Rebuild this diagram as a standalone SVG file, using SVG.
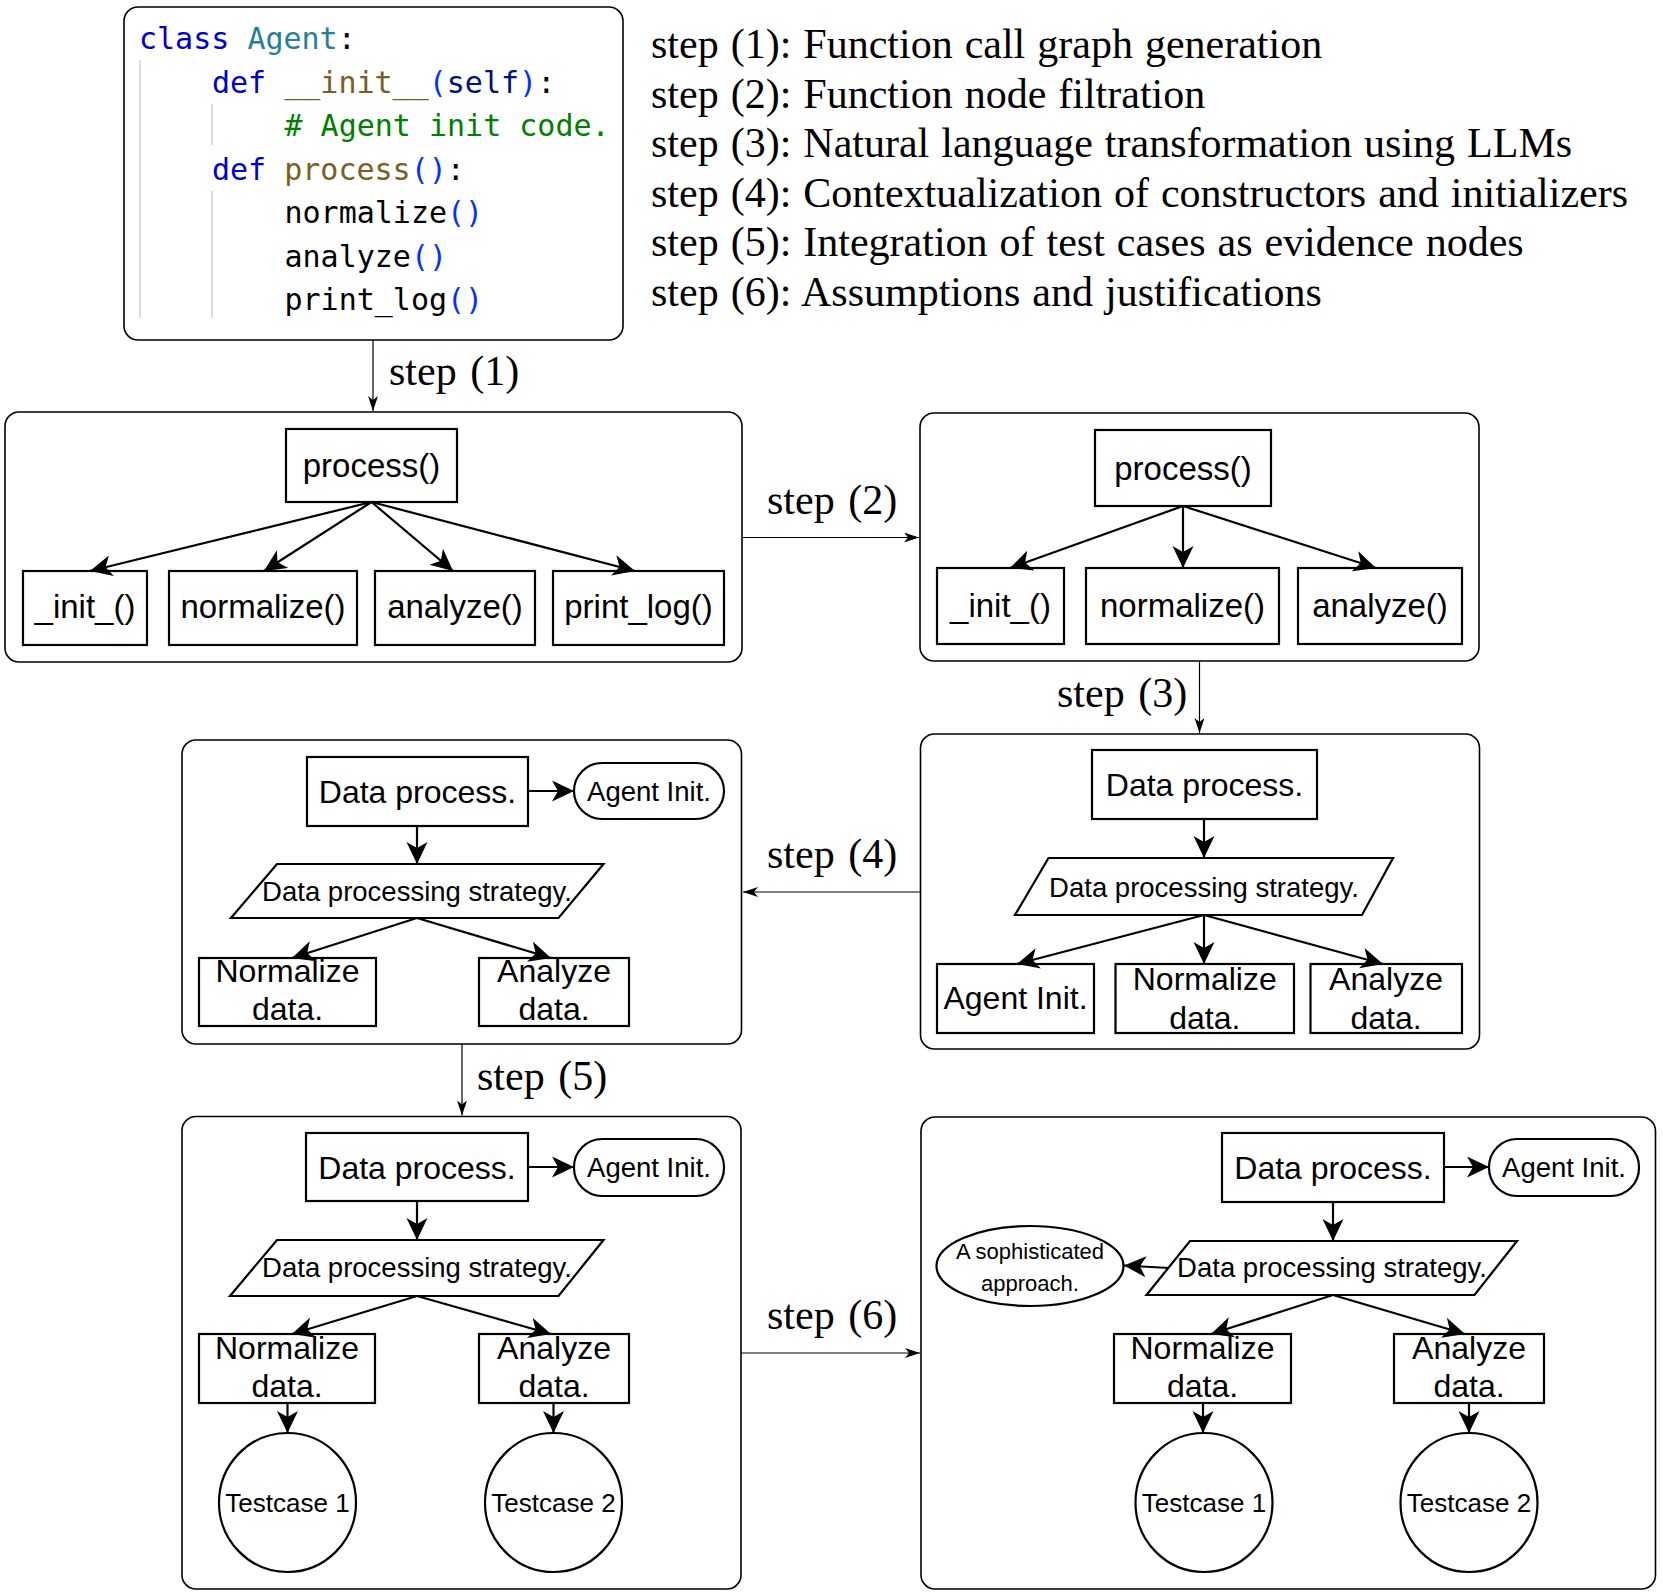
<svg xmlns="http://www.w3.org/2000/svg" width="1663" height="1595" viewBox="0 0 1663 1595">
<defs>
<style>
.panel{fill:#fff;stroke:#000;stroke-width:1.6}
.box{fill:#fff;stroke:#000;stroke-width:2.2}
.edge{fill:none;stroke:#000;stroke-width:2.2}
.thin{fill:none;stroke:#000;stroke-width:1.2}
.guide{stroke:#d0d0d0;stroke-width:1.5}
.code{font-family:"DejaVu Sans Mono","Liberation Mono",monospace;font-size:30px;fill:#000}
.serif{font-family:"Liberation Serif","Times New Roman",serif;font-size:42px;fill:#000}
.s33{font-family:"Liberation Sans",Arial,sans-serif;font-size:33px;fill:#000;text-anchor:middle}
.s32{font-family:"Liberation Sans",Arial,sans-serif;font-size:32px;fill:#000;text-anchor:middle}
.s27{font-family:"Liberation Sans",Arial,sans-serif;font-size:27.5px;fill:#000;text-anchor:middle}
.s26{font-family:"Liberation Sans",Arial,sans-serif;font-size:26px;fill:#000;text-anchor:middle}
.s22{font-family:"Liberation Sans",Arial,sans-serif;font-size:22px;fill:#000;text-anchor:middle}
.kw{fill:#0000cc}.cls{fill:#267f99}.fn{fill:#795e26}.par{fill:#0431fa}.slf{fill:#001080}.cm{fill:#008000}
</style>
<marker id="ah" markerUnits="userSpaceOnUse" markerWidth="24" markerHeight="22" refX="22" refY="10.5" orient="auto"><path d="M0,0 L22,10.5 L0,21 L6,10.5 Z" fill="#000"/></marker>
<marker id="ahs" markerUnits="userSpaceOnUse" markerWidth="16" markerHeight="12" refX="15" refY="5" orient="auto"><path d="M0,0 L15,5 L0,10 L4,5 Z" fill="#000"/></marker>
</defs>
<rect width="1663" height="1595" fill="#fff"/>

<g id="code">
<rect class="panel" x="124" y="7" width="499" height="333" rx="14"/>
<line class="guide" x1="140" y1="60" x2="140" y2="318"/>
<line class="guide" x1="212" y1="104" x2="212" y2="145"/>
<line class="guide" x1="212" y1="191" x2="212" y2="318"/>
<text class="code" x="139" y="49"><tspan class="kw">class</tspan> <tspan class="cls">Agent</tspan>:</text>
<text class="code" x="212" y="92.5"><tspan class="kw">def</tspan> <tspan class="fn">__init__</tspan><tspan class="par">(</tspan><tspan class="slf">self</tspan><tspan class="par">)</tspan>:</text>
<text class="code" x="284.5" y="136"><tspan class="cm"># Agent init code.</tspan></text>
<text class="code" x="212" y="179.5"><tspan class="kw">def</tspan> <tspan class="fn">process</tspan><tspan class="par">()</tspan>:</text>
<text class="code" x="284.5" y="223">normalize<tspan class="par">()</tspan></text>
<text class="code" x="284.5" y="266.5">analyze<tspan class="par">()</tspan></text>
<text class="code" x="284.5" y="310">print_log<tspan class="par">()</tspan></text>
</g>

<g id="legend">
<text class="serif" x="651" y="58" word-spacing="1.5">step (1): Function call graph generation</text>
<text class="serif" x="651" y="107.5" word-spacing="1.5">step (2): Function node filtration</text>
<text class="serif" x="651" y="157" word-spacing="1.5">step (3): Natural language transformation using LLMs</text>
<text class="serif" x="651" y="206.5" word-spacing="1.5">step (4): Contextualization of constructors and initializers</text>
<text class="serif" x="651" y="256" word-spacing="1.5">step (5): Integration of test cases as evidence nodes</text>
<text class="serif" x="651" y="305.5" word-spacing="1.5">step (6): Assumptions and justifications</text>
</g>

<g id="panelA">
<rect class="panel" x="5" y="412" width="737" height="250" rx="14"/>
<rect class="box" x="286" y="429" width="171" height="73"/>
<text class="s33" x="371.5" y="477">process()</text>
<rect class="box" x="23" y="571" width="124" height="74"/>
<text class="s33" x="85" y="618">_init_()</text>
<rect class="box" x="169" y="571" width="188" height="74"/>
<text class="s33" x="263" y="618">normalize()</text>
<rect class="box" x="375" y="571" width="160" height="74"/>
<text class="s33" x="455" y="618">analyze()</text>
<rect class="box" x="553" y="571" width="171" height="74"/>
<text class="s33" x="638.5" y="618">print_log()</text>
</g>

<g id="panelB">
<rect class="panel" x="920" y="413" width="559" height="248" rx="14"/>
<rect class="box" x="1095" y="430" width="176" height="76"/>
<text class="s33" x="1183" y="480">process()</text>
<rect class="box" x="937" y="568" width="127" height="76"/>
<text class="s33" x="1000.5" y="617">_init_()</text>
<rect class="box" x="1086" y="568" width="193" height="76"/>
<text class="s33" x="1182.5" y="617">normalize()</text>
<rect class="box" x="1298" y="568" width="164" height="76"/>
<text class="s33" x="1380" y="617">analyze()</text>
</g>

<g id="panelC">
<rect class="panel" x="920.5" y="734" width="559" height="315" rx="14"/>
<rect class="box" x="1092" y="750" width="225" height="69"/>
<text class="s32" x="1204.5" y="796">Data process.</text>
<polygon class="box" points="1048.5,858 1393,858 1362,915 1015,915"/>
<text class="s27" x="1204" y="896.5">Data processing strategy.</text>
<rect class="box" x="937" y="964" width="157" height="69"/>
<text class="s32" x="1015.5" y="1009">Agent Init.</text>
<rect class="box" x="1115.5" y="964" width="178.5" height="69"/>
<text class="s32" x="1204.75" y="990">Normalize</text>
<text class="s32" x="1204.75" y="1029">data.</text>
<rect class="box" x="1310.5" y="964" width="151.5" height="69"/>
<text class="s32" x="1386" y="990">Analyze</text>
<text class="s32" x="1386" y="1029">data.</text>
</g>

<g id="panelD">
<rect class="panel" x="182" y="740" width="559.5" height="304" rx="14"/>
<rect class="box" x="307" y="757" width="221" height="69"/>
<text class="s32" x="417.5" y="802.5">Data process.</text>
<rect class="box" x="574" y="763" width="150" height="56" rx="28"/>
<text class="s27" x="649" y="800.5">Agent Init.</text>
<polygon class="box" points="277,864 603.5,864 558.5,918 231,918"/>
<text class="s27" x="417" y="900.5">Data processing strategy.</text>
<rect class="box" x="199" y="958" width="177" height="68"/>
<text class="s32" x="287.5" y="982">Normalize</text>
<text class="s32" x="287.5" y="1020">data.</text>
<rect class="box" x="479" y="958" width="150" height="68"/>
<text class="s32" x="554" y="982">Analyze</text>
<text class="s32" x="554" y="1020">data.</text>
</g>

<g id="panelE">
<rect class="panel" x="182" y="1116.5" width="559" height="472.5" rx="14"/>
<rect class="box" x="306" y="1133" width="222" height="68"/>
<text class="s32" x="417" y="1178.5">Data process.</text>
<rect class="box" x="574" y="1139" width="150" height="57" rx="28"/>
<text class="s27" x="649" y="1177">Agent Init.</text>
<polygon class="box" points="277,1240 603.5,1240 558.5,1296 230,1296"/>
<text class="s27" x="417" y="1277">Data processing strategy.</text>
<rect class="box" x="199" y="1334" width="176" height="69"/>
<text class="s32" x="287" y="1359">Normalize</text>
<text class="s32" x="287" y="1397">data.</text>
<rect class="box" x="479" y="1334" width="150" height="69"/>
<text class="s32" x="554" y="1359">Analyze</text>
<text class="s32" x="554" y="1397">data.</text>
<ellipse class="box" cx="287.5" cy="1502.5" rx="68.5" ry="69.5"/>
<text class="s26" x="287.5" y="1512">Testcase 1</text>
<ellipse class="box" cx="553.5" cy="1502.5" rx="68.5" ry="69.5"/>
<text class="s26" x="553.5" y="1512">Testcase 2</text>
</g>

<g id="panelF">
<rect class="panel" x="921" y="1117" width="734.5" height="472" rx="14"/>
<rect class="box" x="1222" y="1133" width="222" height="69"/>
<text class="s32" x="1333" y="1179">Data process.</text>
<rect class="box" x="1489" y="1139" width="150" height="57" rx="28"/>
<text class="s27" x="1564" y="1177">Agent Init.</text>
<polygon class="box" points="1190,1241 1517,1241 1474.5,1295 1146.5,1295"/>
<text class="s27" x="1332" y="1277">Data processing strategy.</text>
<ellipse class="box" cx="1030" cy="1266" rx="93.5" ry="40"/>
<text class="s22" x="1030" y="1259">A sophisticated</text>
<text class="s22" x="1030" y="1291">approach.</text>
<rect class="box" x="1114" y="1334" width="177" height="69"/>
<text class="s32" x="1202.5" y="1359">Normalize</text>
<text class="s32" x="1202.5" y="1397">data.</text>
<rect class="box" x="1394" y="1334" width="150" height="69"/>
<text class="s32" x="1469" y="1359">Analyze</text>
<text class="s32" x="1469" y="1397">data.</text>
<ellipse class="box" cx="1204" cy="1502.5" rx="68.5" ry="69.5"/>
<text class="s26" x="1204" y="1512">Testcase 1</text>
<ellipse class="box" cx="1469" cy="1502.5" rx="68.5" ry="69.5"/>
<text class="s26" x="1469" y="1512">Testcase 2</text>
</g>

<g id="connectors">
<line class="thin" x1="373" y1="340" x2="373" y2="411" marker-end="url(#ahs)"/>
<line class="thin" x1="742" y1="537.5" x2="919" y2="537.5" marker-end="url(#ahs)"/>
<line class="thin" x1="1199.5" y1="661" x2="1199.5" y2="733" marker-end="url(#ahs)"/>
<line class="thin" x1="920.5" y1="892" x2="743" y2="892" marker-end="url(#ahs)"/>
<line class="thin" x1="462" y1="1044" x2="462" y2="1115.5" marker-end="url(#ahs)"/>
<line class="thin" x1="741" y1="1353" x2="920" y2="1353" marker-end="url(#ahs)"/>

<line class="edge" x1="371.5" y1="502" x2="90" y2="571" marker-end="url(#ah)"/>
<line class="edge" x1="371.5" y1="502" x2="264" y2="571" marker-end="url(#ah)"/>
<line class="edge" x1="371.5" y1="502" x2="453" y2="571" marker-end="url(#ah)"/>
<line class="edge" x1="371.5" y1="502" x2="635" y2="571" marker-end="url(#ah)"/>

<line class="edge" x1="1183" y1="506" x2="1010" y2="568" marker-end="url(#ah)"/>
<line class="edge" x1="1183" y1="506" x2="1183" y2="568" marker-end="url(#ah)"/>
<line class="edge" x1="1183" y1="506" x2="1376" y2="568" marker-end="url(#ah)"/>

<line class="edge" x1="1204" y1="819" x2="1204" y2="858" marker-end="url(#ah)"/>
<line class="edge" x1="1204" y1="915" x2="1017" y2="964" marker-end="url(#ah)"/>
<line class="edge" x1="1204" y1="915" x2="1204" y2="964" marker-end="url(#ah)"/>
<line class="edge" x1="1204" y1="915" x2="1383" y2="964" marker-end="url(#ah)"/>

<line class="edge" x1="528" y1="791" x2="574" y2="791" marker-end="url(#ah)"/>
<line class="edge" x1="417" y1="826" x2="417" y2="864" marker-end="url(#ah)"/>
<line class="edge" x1="417" y1="918" x2="292" y2="958" marker-end="url(#ah)"/>
<line class="edge" x1="417" y1="918" x2="551" y2="958" marker-end="url(#ah)"/>

<line class="edge" x1="528" y1="1167" x2="574" y2="1167" marker-end="url(#ah)"/>
<line class="edge" x1="417" y1="1201" x2="417" y2="1240" marker-end="url(#ah)"/>
<line class="edge" x1="417" y1="1296" x2="292" y2="1334" marker-end="url(#ah)"/>
<line class="edge" x1="417" y1="1296" x2="551" y2="1334" marker-end="url(#ah)"/>
<line class="edge" x1="287.5" y1="1403" x2="287.5" y2="1433" marker-end="url(#ah)"/>
<line class="edge" x1="553.5" y1="1403" x2="553.5" y2="1433" marker-end="url(#ah)"/>

<line class="edge" x1="1444" y1="1167" x2="1489" y2="1167" marker-end="url(#ah)"/>
<line class="edge" x1="1333" y1="1202" x2="1333" y2="1241" marker-end="url(#ah)"/>
<line class="edge" x1="1169" y1="1268" x2="1124" y2="1265.5" marker-end="url(#ah)"/>
<line class="edge" x1="1333" y1="1295" x2="1211" y2="1334" marker-end="url(#ah)"/>
<line class="edge" x1="1333" y1="1295" x2="1465" y2="1334" marker-end="url(#ah)"/>
<line class="edge" x1="1203" y1="1403" x2="1203" y2="1433" marker-end="url(#ah)"/>
<line class="edge" x1="1469" y1="1403" x2="1469" y2="1433" marker-end="url(#ah)"/>
</g>

<g id="step-labels">
<text class="serif" x="389" y="385" word-spacing="3">step (1)</text>
<text class="serif" x="767" y="514" word-spacing="3">step (2)</text>
<text class="serif" x="1057" y="707" word-spacing="3">step (3)</text>
<text class="serif" x="767" y="868" word-spacing="3">step (4)</text>
<text class="serif" x="477" y="1090" word-spacing="3">step (5)</text>
<text class="serif" x="767" y="1329" word-spacing="3">step (6)</text>
</g>
</svg>
